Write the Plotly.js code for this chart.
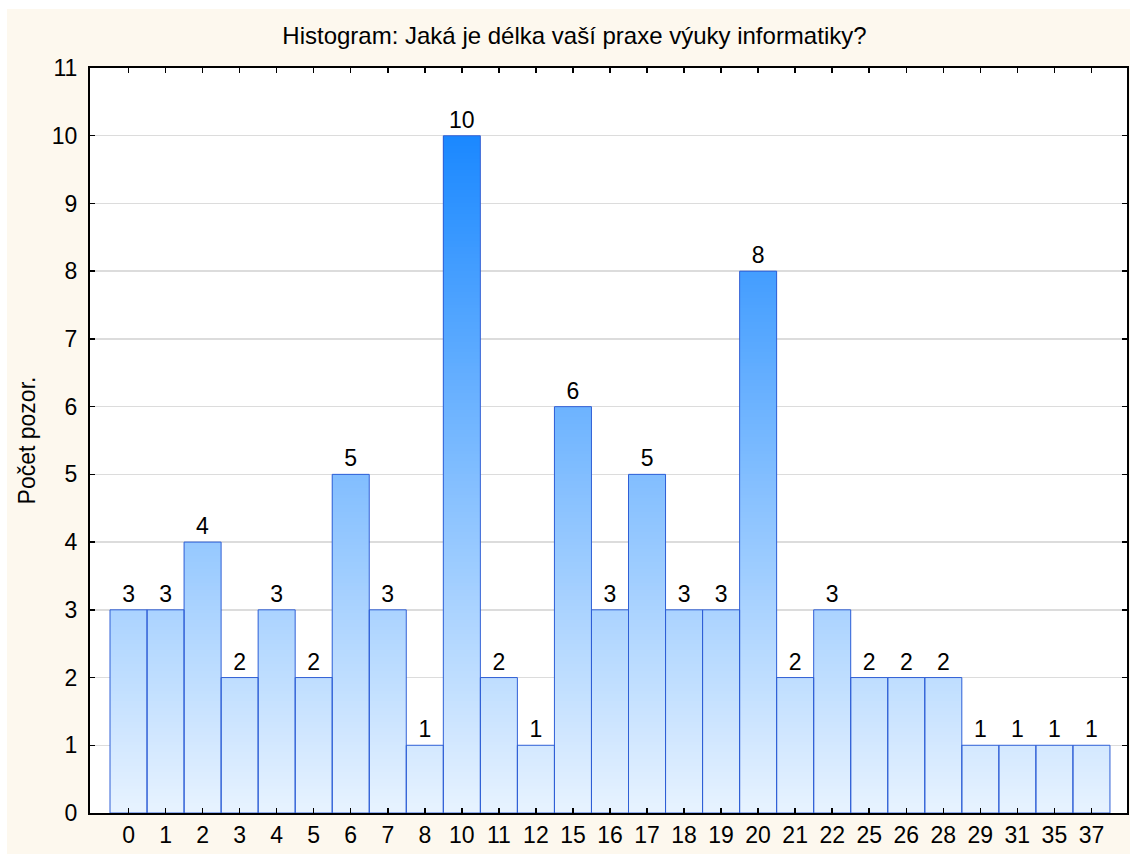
<!DOCTYPE html>
<html>
<head>
<meta charset="utf-8">
<script src="https://cdn.plot.ly/plotly-3.0.1.min.js"></script>
<style>
html,body{margin:0;padding:0;background:#ffffff;}
#chart{position:absolute;left:7px;top:9px;width:1123px;height:845px;}
</style>
</head>
<body>
<div id="chart"></div>
<script>
const categories = ['0','1','2','3','4','5','6','7','8','10','11','12','15','16','17','18','19','20','21','22','25','26','28','29','31','35','37'];
const counts = [3,3,4,2,3,2,5,3,1,10,2,1,6,3,5,3,3,8,2,3,2,2,2,1,1,1,1];
const titleText = 'Histogram: Jaká je délka vaší praxe výuky informatiky?';
const yTitle = 'Počet pozor.';

const FONT = '"Liberation Sans", Arial, sans-serif';
const cLow = [232, 243, 255];   // colour at y = 0
const cHigh = [26, 136, 255];   // colour at y = 10
const gradTop = 10;
function colAt(v) {
  const t = Math.max(0, Math.min(1, v / gradTop));
  const c = cLow.map((a, i) => Math.round(a + (cHigh[i] - a) * t));
  return 'rgb(' + c.join(',') + ')';
}

// gradient fill: each bar is split into thin stacked pieces, coloured by height
const step = 0.05;
const segX = [], segBase = [], segY = [], segC = [];
categories.forEach((cat, i) => {
  const v = counts[i];
  for (let b = 0; b < v - 1e-9; b += step) {
    segX.push(cat);
    segBase.push(b);
    segY.push(Math.min(step * 1.6, v - b));
    segC.push(colAt(b + step / 2));
  }
});

const fillTrace = {
  type: 'bar', x: segX, y: segY, base: segBase, width: 1,
  marker: {color: segC, line: {width: 0}},
  hoverinfo: 'skip', showlegend: false
};

const outlineTrace = {
  type: 'bar', x: categories, y: counts, width: 1,
  marker: {color: 'rgba(0,0,0,0)', line: {color: '#2f5fd6', width: 1}},
  text: counts.map(String), textposition: 'outside', constraintext: 'none',
  cliponaxis: false,
  textfont: {family: FONT, size: 23, color: '#000000'},
  hoverinfo: 'skip', showlegend: false
};

const layout = {
  width: 1123, height: 845,
  paper_bgcolor: '#fdf8ee', plot_bgcolor: '#ffffff',
  margin: {l: 83, r: 3, t: 59, b: 41, autoexpand: false},
  barmode: 'overlay', bargap: 0,
  font: {family: FONT, size: 23, color: '#000000'},
  title: {text: titleText, font: {family: FONT, size: 24, color: '#000000'},
          xref: 'container', x: 0.5053, xanchor: 'center',
          yref: 'container', y: 0.968, yanchor: 'middle'},
  xaxis: {
    type: 'category', categoryorder: 'array', categoryarray: categories,
    range: [-1.04, 26.96], showgrid: false, zeroline: false,
    showline: true, linecolor: '#000000', linewidth: 2, mirror: 'ticks',
    ticks: 'inside', ticklen: 5, tickwidth: 1.5, tickcolor: '#000000',
    tickfont: {family: FONT, size: 23, color: '#000000'}, fixedrange: true
  },
  yaxis: {
    range: [0, 11], dtick: 1, tick0: 0, showgrid: true, gridcolor: '#dcdcdc', gridwidth: 1.5,
    zeroline: false, showline: true, linecolor: '#000000', linewidth: 2, mirror: 'ticks',
    ticks: 'inside', ticklen: 5, tickwidth: 1.5, tickcolor: '#000000',
    ticklabelstandoff: 6,
    tickfont: {family: FONT, size: 23, color: '#000000'},
    title: {text: yTitle, font: {family: FONT, size: 23, color: '#000000'}, standoff: 10},
    fixedrange: true
  },
  hovermode: false, showlegend: false
};

Plotly.newPlot('chart', [fillTrace, outlineTrace], layout, {displayModeBar: false, staticPlot: true});
</script>
</body>
</html>
